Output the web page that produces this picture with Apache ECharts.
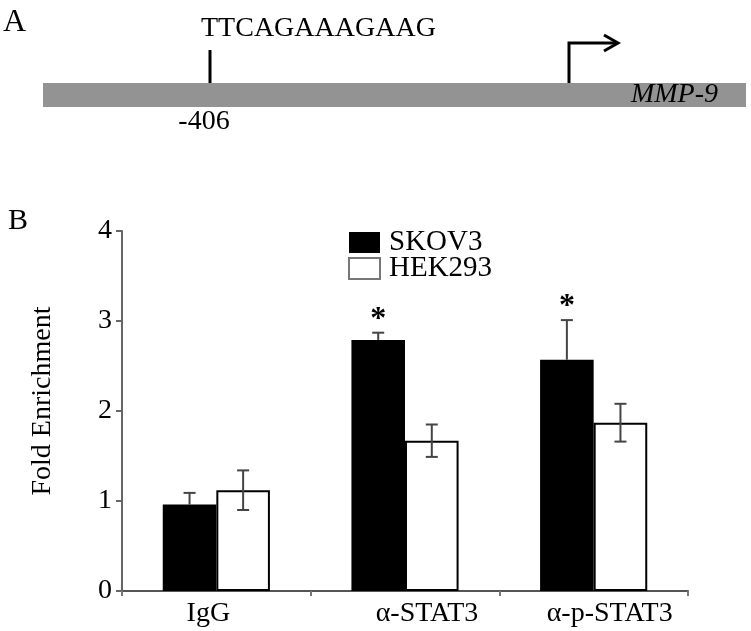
<!DOCTYPE html>
<html><head><meta charset="utf-8">
<script src="https://cdn.jsdelivr.net/npm/echarts@6/dist/echarts.min.js"></script>
<style>html,body{margin:0;padding:0;background:#fff}#c{width:751px;height:631px}</style>
</head><body><div id="c"></div>
<script>
const categories = ['IgG', 'α-STAT3', 'α-p-STAT3'];
const skov3 = [0.96, 2.79, 2.57];
const skov3Err = [0.13, 0.08, 0.44];
const hek293 = [1.12, 1.67, 1.87];
const hek293Err = [0.22, 0.18, 0.21];
const significance = ['', '*', '*'];
const yTicks = [0, 1, 2, 3, 4];
const seqText = 'TTCAGAAAGAAG';
const siteText = '-406';
const geneText = 'MMP-9';

const FONT = '"Liberation Serif", "Times New Roman", serif';
const chart = echarts.init(document.getElementById('c'));

function errorSeries(name, vals, errs, side, upOnly, marks) {
  return {
    type: 'custom', name: name, z: 5, silent: true,
    data: vals.map((v, i) => [i, v, errs[i]]),
    renderItem(params, api) {
      const i = api.value(0), v = api.value(1), e = api.value(2);
      const band = api.size([1, 0])[0];
      const c = api.coord([i, v]);
      const x = c[0] + side * band * 0.142;
      const top = api.coord([i, v + e])[1];
      const bot = upOnly ? c[1] : api.coord([i, v - e])[1];
      const cap = 6;
      const st = { stroke: '#444', lineWidth: 2 };
      const children = [
        { type: 'line', shape: { x1: x, y1: top, x2: x, y2: bot }, style: st },
        { type: 'line', shape: { x1: x - cap, y1: top, x2: x + cap, y2: top }, style: st }
      ];
      if (!upOnly) children.push({ type: 'line', shape: { x1: x - cap, y1: bot, x2: x + cap, y2: bot }, style: st });
      if (marks && marks[i]) {
        children.push({ type: 'text', x: x, y: top + 3,
          style: { text: marks[i], font: 'bold 32px ' + FONT, align: 'center', verticalAlign: 'bottom', fill: '#000' } });
      }
      return { type: 'group', children: children };
    }
  };
}

const labelShift = { IgG: [0, 16, 0, 0], 'α-STAT3': [0, 0, 0, 44], 'α-p-STAT3': [0, 0, 0, 32] };

chart.setOption({
  backgroundColor: '#fff',
  animation: false,
  grid: { left: 122, right: 63, top: 231, bottom: 40, containLabel: false },
  legend: {
    orient: 'vertical', left: 348, top: 228, padding: 0, itemWidth: 31, itemHeight: 21, itemGap: -3,
    textStyle: { fontFamily: FONT, fontSize: 29, color: '#000', padding: [0, 0, 0, 4] },
    data: [
      { name: 'SKOV3', icon: 'rect', itemStyle: { color: '#000', borderWidth: 0 } },
      { name: 'HEK293', icon: 'rect', itemStyle: { color: '#fff', borderColor: '#777', borderWidth: 2 } }
    ]
  },
  xAxis: {
    type: 'category', data: categories,
    axisLine: { lineStyle: { color: '#555', width: 2 } },
    axisTick: { show: true, length: 5, lineStyle: { color: '#777', width: 2 } },
    axisLabel: {
      interval: 0, hideOverlap: false,
      margin: 9, color: '#000', fontFamily: FONT, fontSize: 28,
      formatter: (v) => '{' + ['a', 'b', 'c'][categories.indexOf(v)] + '|' + v + '}',
      rich: {
        a: { fontFamily: FONT, fontSize: 28, color: '#000', padding: labelShift['IgG'] },
        b: { fontFamily: FONT, fontSize: 28, color: '#000', padding: labelShift['α-STAT3'] },
        c: { fontFamily: FONT, fontSize: 28, color: '#000', padding: labelShift['α-p-STAT3'] }
      }
    }
  },
  yAxis: {
    type: 'value', min: yTicks[0], max: yTicks[yTicks.length - 1], interval: 1,
    name: 'Fold Enrichment', nameLocation: 'middle', nameGap: 65,
    nameTextStyle: { fontFamily: FONT, fontSize: 28, color: '#000', padding: [0, 0, 0, 20] },
    axisLine: { show: true, lineStyle: { color: '#666', width: 2 } },
    axisTick: { show: true, length: 6, lineStyle: { color: '#666', width: 2 } },
    splitLine: { show: false },
    axisLabel: { margin: 10, color: '#000', fontFamily: FONT, fontSize: 28 }
  },
  series: [
    { type: 'bar', name: 'SKOV3', data: skov3, barWidth: '28.4%', barGap: '0%',
      itemStyle: { color: '#000' } },
    { type: 'bar', name: 'HEK293', data: hek293, barWidth: '28.4%', barGap: '0%',
      itemStyle: { color: 'rgba(255,255,255,0)', borderColor: '#000', borderWidth: 2 } },
    errorSeries('SKOV3 error', skov3, skov3Err, -1, true, significance),
    errorSeries('HEK293 error', hek293, hek293Err, 1, false, null)
  ],
  graphic: [
    { type: 'text', left: 3, top: 7, style: { text: 'A', font: '32px ' + FONT, fill: '#000' } },
    { type: 'text', left: 8, top: 206, style: { text: 'B', font: '30px ' + FONT, fill: '#000' } },
    { type: 'rect', shape: { x: 43, y: 83, width: 703, height: 24 }, style: { fill: '#939393' } },
    { type: 'line', shape: { x1: 210, y1: 50, x2: 210, y2: 83 }, style: { stroke: '#000', lineWidth: 3 } },
    { type: 'text', x: 201, y: 29, style: { text: seqText, font: '28px ' + FONT, fill: '#000', verticalAlign: 'middle' } },
    { type: 'text', x: 204, y: 122, style: { text: siteText, font: '28px ' + FONT, fill: '#000', align: 'center', verticalAlign: 'middle' } },
    { type: 'polyline', shape: { points: [[569, 83], [569, 43], [617, 43]] }, style: { stroke: '#000', lineWidth: 3, fill: null } },
    { type: 'polyline', shape: { points: [[604, 35], [618, 43], [604, 51]] }, style: { stroke: '#000', lineWidth: 3, fill: null } },
    { type: 'text', x: 718, y: 95, style: { text: geneText, font: 'italic 28px ' + FONT, fill: '#000', align: 'right', verticalAlign: 'middle' } }
  ]
});
</script></body></html>
